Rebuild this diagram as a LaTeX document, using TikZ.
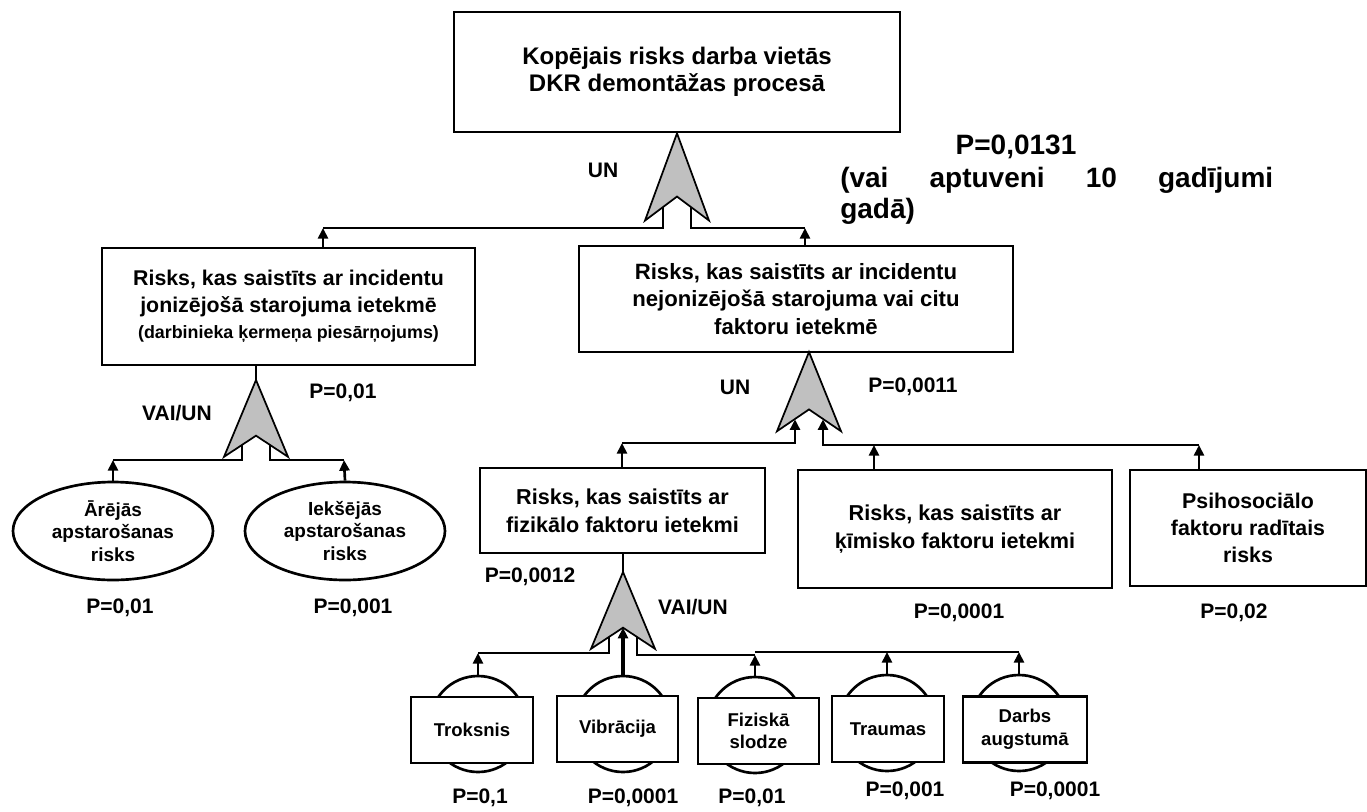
\documentclass[tikz,border=0pt]{standalone}
\usepackage{fontspec}
\setmainfont{Liberation Sans}
\usetikzlibrary{arrows.meta,shapes.geometric}

\tikzset{
  gatebody/.style={draw, line width=1.3pt, line join=miter, fill={rgb,255:red,192;green,192;blue,192}},
  gate/.pic={
    \coordinate (-out) at (0,0);
    \coordinate (-in) at (0,58);
    \coordinate (-l) at (-14,68);
    \coordinate (-r) at (14,68);
    \path[gatebody] (0,0) -- (-32,80) -- (0,58) -- (32,80) -- cycle;
  }
}

\begin{document}
\begin{tikzpicture}[x=0.75pt,y=0.75pt,yscale=-1,xscale=1,
    wire/.style={line width=2pt},
    up/.style={line width=2pt, -{Triangle[length=8pt,width=7.5pt]}},
    box/.style={draw, line width=2pt, fill=white, align=center, inner sep=2pt, font=\fontsize{16}{20}\selectfont\bfseries},
    event/.style={draw, ellipse, line width=2pt, fill=white, inner sep=0pt, minimum width=150pt, minimum height=73.5pt, align=center, font=\fontsize{14.2}{16.9}\selectfont\bfseries},
    leafcirc/.style={draw, circle, line width=2pt, minimum size=72pt, inner sep=0pt},
    leaf/.style={draw, line width=2pt, fill=white, minimum height=49.5pt, inner sep=1pt, align=center, font=\fontsize{13.9}{16.9}\selectfont\bfseries},
    lbl/.style={inner sep=0pt, font=\fontsize{15.75}{18}\selectfont\bfseries},
    big/.style={inner sep=0pt, font=\fontsize{21}{23.5}\selectfont\bfseries}
  ]
  \useasboundingbox (0,0) rectangle (1367,811);

  % top event
  \node[box, minimum width=334.5pt, minimum height=90pt, font=\fontsize{18}{20}\selectfont\bfseries] (top) at (677,72) {Kopējais risks darba vietās\\DKR demontāžas procesā};
  \node[big] (ptop) at (1016,147) {P=0,0131};
  \node[big, anchor=north west, align=left] (note) at (840,167) {\makebox[324.75pt][s]{(vai aptuveni 10 gadījumi}\\gadā)};

  % second level
  \node[box, minimum width=279.75pt, minimum height=87.75pt] (ionbox) at (288.5,306.5) {Risks, kas saistīts ar incidentu\\jonizējošā starojuma ietekmē\\{\fontsize{13.4}{16}\selectfont (darbinieka ķermeņa piesārņojums)}};
  \node[box, minimum width=325.5pt, minimum height=79.5pt, font=\fontsize{16.6}{20.5}\selectfont\bfseries] (nonbox) at (796,299) {Risks, kas saistīts ar incidentu\\nejonizējošā starojuma vai citu\\faktoru ietekmē};

  % ionizing branch
  \node[event] (ell1) at (113,531) {Ārējās\\apstarošanas\\risks};
  \node[event] (ell2) at (345,531) {Iekšējās\\apstarošanas\\risks};

  % non-ionizing branch
  \node[box, minimum width=213.75pt, minimum height=63.75pt, font=\fontsize{16.2}{21}\selectfont\bfseries] (fizbox) at (622.5,510.5) {Risks, kas saistīts ar\\fizikālo faktoru ietekmi};
  \node[box, minimum width=235.5pt, minimum height=88.5pt, font=\fontsize{16.2}{21}\selectfont\bfseries] (chembox) at (955,529) {Risks, kas saistīts ar\\ķīmisko faktoru ietekmi};
  \node[box, minimum width=177pt, minimum height=87pt] (psibox) at (1248,528) {Psihosociālo\\faktoru radītais\\risks};

  % basic events
  \node[leafcirc] (lc1) at (478,724) {};
  \node[leafcirc] (lc2) at (623,724) {};
  \node[leafcirc] (lc3) at (755,725) {};
  \node[leafcirc] (lc4) at (887,723) {};
  \node[leafcirc] (lc5) at (1019,723) {};
  \node[leaf, minimum width=91.5pt] (lf1) at (472,730) {Troksnis};
  \node[leaf, minimum width=90.75pt] (lf2) at (617.5,729) {Vibrācija};
  \node[leaf, minimum width=90.75pt] (lf3) at (758.5,731) {Fiziskā\\slodze};
  \node[leaf, minimum width=84pt] (lf4) at (888,729) {Traumas};
  \node[leaf, minimum width=93pt] (lf5) at (1025,729.5) {Darbs\\augstumā};

  % gates
  \pic[transform shape, yscale=1.09] (g1) at (top.south) {gate};
  \pic[transform shape, yscale=0.96] (g2) at (256,380) {gate};
  \pic[transform shape, yscale=0.99] (g3) at (809,352) {gate};
  \pic[transform shape, yscale=0.96] (g4) at (623,572) {gate};

  % bar ends
  \coordinate (b1l) at (323,228);
  \coordinate (b1r) at (805,228);
  \coordinate (e1t) at (113,460);
  \coordinate (e2t) at (344,460);
  \coordinate (f1t) at (622,443);
  \coordinate (c1t) at (874,445);
  \coordinate (p1t) at (1199,445);
  \coordinate (t1t) at (478,653);
  \coordinate (t3t) at (755,655);
  \coordinate (t5t) at (1019,652);

  % connectors, level 1
  \draw[wire] (g1-l) |- (b1l);
  \draw[wire] (g1-r) |- (b1r);
  \draw[up] (b1l |- ionbox.north) -- (b1l);
  \draw[up] (b1r |- nonbox.north) -- (b1r);

  % connectors, ionizing
  \draw[wire] (g2-out) -- (g2-out |- ionbox.south);
  \draw[wire] (g2-l) |- (e1t);
  \draw[wire] (g2-r) |- (e2t);
  \draw[up] (ell1.north) -- (e1t);
  \draw[up] (ell2.north) -- (e2t);

  % connectors, non-ionizing
  \draw[up] (f1t) -| (g3-l);
  \draw[up] (p1t) -| (g3-r);
  \draw[up] (f1t |- fizbox.north) -- (f1t);
  \draw[up] (c1t |- chembox.north) -- (c1t);
  \draw[up] (p1t |- psibox.north) -- (p1t);

  % connectors, physical factors
  \draw[wire] (g4-out) -- (g4-out |- fizbox.south);
  \draw[wire] (g4-l) |- (t1t);
  \draw[wire] (g4-r) |- (t3t);
  \draw[wire] (t3t |- t5t) -- (t5t);
  \draw[up] (lc1.north) -- (t1t);
  \draw[up, line width=2.8pt] (lc2.north) -- (g4-in);
  \draw[up] (lc3.north) -- (t3t);
  \draw[up] (lc4.north) -- (lc4.north |- t5t);
  \draw[up] (lc5.north) -- (t5t);

  % gate and probability labels
  \node[lbl] (un1) at (603,170) {UN};
  \node[lbl] (vu1) at (177,413) {VAI/UN};
  \node[lbl] (pion) at (343,393) {P=0,01};
  \node[lbl] (pe1) at (120,608) {P=0,01};
  \node[lbl] (pe2) at (353,608) {P=0,001};
  \node[lbl] (un2) at (735,387) {UN};
  \node[lbl] (pnon) at (913,387) {P=0,0011};
  \node[lbl] (pfiz) at (530,577) {P=0,0012};
  \node[lbl] (vu2) at (693,607) {VAI/UN};
  \node[lbl] (pchem) at (959,613) {P=0,0001};
  \node[lbl] (ppsi) at (1234,613) {P=0,02};
  \node[lbl] (pl1) at (480,798) {P=0,1};
  \node[lbl] (pl2) at (633,798) {P=0,0001};
  \node[lbl] (pl3) at (752,798) {P=0,01};
  \node[lbl] (pl4) at (905,791) {P=0,001};
  \node[lbl] (pl5) at (1055,791) {P=0,0001};
\end{tikzpicture}
\end{document}
